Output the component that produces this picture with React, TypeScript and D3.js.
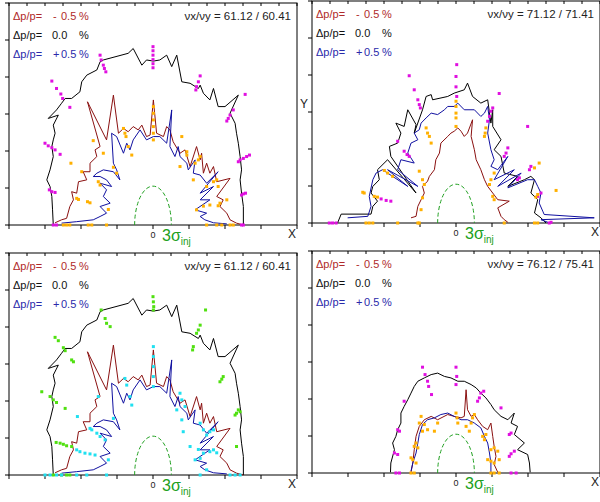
import * as d3 from 'd3'

type Pt = [number, number]

// axis ticks (x in tick units of 10, y likewise)
const X_TICKS = [-40, -30, -20, -10, 0, 10, 20, 30, 40]
const X_MINOR = [-35, -25, -15, -5, 5, 15, 25, 35]
const Y_TICKS = [0, 10, 20, 30, 40, 50, 60]
const TUNES = ['61.12 / 60.41', '71.12 / 71.41', '61.12 / 60.41', '76.12 / 75.41']
const DP_SIGNS = ['-', '', '+']
const DP_VALUES = ['0.5', '0.0', '0.5']
const INJ_HALF = [5.1, 10.5]

// ---- tune 61.12 / 60.41 (panels 1 and 3)
const P1_BLACK: Pt[] = [
  [-27.7, 0], [-27.9, 4.1], [-28.1, 7.7], [-28.6, 10.4], [-29.5, 12.2], [-28.6, 14.9], [-27.7, 18.5],
  [-28.1, 21.2], [-27.7, 23.0], [-27.2, 24.8], [-27.7, 27.0], [-26.3, 29.7], [-29.1, 28.8], [-26.8, 31.1],
  [-25.4, 32.9], [-24.4, 34.2], [-22.6, 34.2], [-20.3, 36.0], [-19.8, 38.7], [-18.4, 40.5], [-15.6, 41.9],
  [-14.7, 44.1], [-13.8, 44.6], [-6.9, 46.4], [-5.5, 47.7], [-3.1, 43.2], [-1.8, 44.6], [0.1, 44.3],
  [1.9, 44.6], [3.8, 45.9], [5.2, 42.8], [6.6, 45.9], [8.0, 38.7], [10.3, 38.3], [12.6, 36.9], [13.1, 37.8],
  [14.0, 35.6], [15.8, 33.8], [16.8, 36.9], [18.1, 32.0], [20.0, 32.0], [23.7, 35.1], [21.4, 30.2],
  [22.8, 27.5], [23.2, 24.8], [23.7, 22.1], [24.2, 18.5], [24.6, 14.9], [24.2, 12.2], [24.6, 8.6],
  [25.1, 5.0], [25.1, 0],
]
const P1_RED: Pt[] = [
  [-27.2, 0.6], [-25.4, 1.4], [-24.0, 1.8], [-23.1, 5.0], [-22.1, 6.8], [-22.6, 9.0], [-21.2, 8.6],
  [-20.7, 11.7], [-18.4, 12.2], [-19.4, 14.4], [-17.5, 14.4], [-17.5, 16.7], [-15.6, 18.5], [-16.1, 20.3],
  [-14.7, 21.2], [-18.2, 33.3], [-12.9, 23.0], [-11.0, 35.1], [-9.6, 24.8], [-8.2, 26.1], [-6.9, 25.2],
  [-5.5, 26.6], [-4.1, 25.7], [-3.1, 27.0], [-1.8, 23.9], [-0.8, 24.3], [0.1, 33.8], [1.0, 24.8],
  [2.9, 23.9], [3.8, 26.6], [4.7, 25.7], [5.6, 22.5], [7.5, 19.4], [8.9, 20.3], [10.3, 15.8], [12.1, 21.2],
  [13.1, 17.6], [13.5, 19.4], [14.0, 14.0], [14.9, 16.7], [15.8, 14.0], [16.8, 15.8], [17.7, 11.7],
  [21.4, 12.6], [17.7, 7.7], [19.5, 6.8], [18.6, 5.0], [20.5, 3.2], [21.4, 1.4], [23.2, 0.5], [25.1, 0],
]
const P1_BLUE: Pt[] = [
  [-25.4, 0.5], [-21.2, 0.9], [-16.6, 1.4], [-14.7, 2.3], [-12.9, 3.2], [-14.7, 5.0], [-11.9, 5.9],
  [-13.8, 7.7], [-12.9, 9.5], [-14.7, 11.3], [-11.5, 10.4], [-12.9, 12.2], [-14.7, 13.1], [-16.6, 13.1],
  [-15.6, 14.0], [-13.8, 14.9], [-11.0, 14.4], [-9.2, 12.2], [-10.1, 14.9], [-11.0, 16.7], [-11.5, 24.8],
  [-10.1, 23.9], [-8.2, 19.4], [-7.3, 22.1], [-6.4, 20.3], [-5.5, 23.0], [-3.6, 25.7], [-1.8, 23.0],
  [0.1, 23.9], [1.9, 23.9], [3.8, 22.1], [5.2, 31.1], [4.7, 21.2], [6.1, 18.5], [7.0, 21.2], [7.5, 18.5],
  [9.4, 16.7], [9.8, 14.9], [11.7, 17.6], [11.2, 14.0], [13.1, 13.5], [14.9, 11.3], [18.1, 14.4],
  [13.1, 8.6], [16.8, 10.4], [13.1, 6.8], [15.8, 6.8], [11.7, 4.1], [14.9, 3.2], [13.1, 2.3], [14.4, 1.4],
  [16.8, 0.6], [20.5, 0.3],
]
const P1_MAGENTA: Pt[] = [
  [0, 48.2], [0, 47.1], [0, 45.9], [0, 44.7], [0, 43.6], [0, 42.5],
  [-14.7, 45.9], [-14.4, 44.6], [-13.8, 43.2], [-13.5, 42.3], [-13.1, 41.4],
  [-28.1, 38.9], [-26.8, 36.9], [-25.6, 35.4], [-25.1, 34.2], [-23.1, 31.8],
  [13.1, 40.3], [12.6, 38.7], [12.1, 37.4], [11.9, 36.5], [25.6, 35.3],
  [22.3, 31.1], [21.4, 29.7], [20.9, 28.8], [20.5, 28.1],
  [23.7, 17.1], [24.2, 17.6], [25.1, 18.0], [26.0, 18.5], [26.8, 18.9],
  [-30.0, 22.1], [-29.1, 21.4], [-28.1, 20.9], [-27.2, 20.3], [-25.8, 19.1],
  [-28.8, 9.5], [-28.1, 9.0], [-27.2, 8.8], [24.6, 8.1], [25.1, 8.4], [25.7, 8.6],
  [-27.7, 0], [-26.8, 0], [24.6, 0], [25.1, 0],
]
const P1_ORANGE: Pt[] = [
  [0.1, 32.0], [0.1, 30.2], [0.1, 28.4], [0.1, 26.6], [0.1, 24.8], [0.1, 23.0],
  [-8.2, 26.1], [-7.8, 24.8], [-7.5, 23.9], [-6.9, 21.2], [-5.9, 18.9],
  [-16.6, 22.8], [-13.8, 19.4], [-11.0, 15.6], [-10.1, 14.0], [-15.2, 11.7], [-14.7, 10.8],
  [-19.8, 14.4], [-22.8, 16.7], [-21.2, 7.2], [-20.7, 6.9], [-18.2, 6.3], [-17.5, 6.0], [-12.4, 4.2],
  [8.0, 23.9], [9.4, 19.8], [11.7, 16.7], [12.6, 17.6], [7.5, 15.8], [11.2, 12.2], [14.9, 10.4],
  [16.8, 11.7], [17.7, 12.2], [18.1, 10.4], [20.5, 6.8], [18.6, 5.9], [18.1, 5.2], [15.8, 5.4],
  [12.1, 4.1], [14.0, 5.1], [9.4, 18.9], [13.1, 18.5],
  [-24.9, 0], [-24.0, 0], [-23.1, 0], [-18.0, 0], [-17.0, 0], [-12.9, 0],
  [14.9, 0], [17.7, 0], [19.1, 0], [21.4, 0], [22.3, 0],
]
const P3_GREEN: Pt[] = [
  [0, 48.2], [0.1, 46.8], [0.2, 45.5], [0.1, 44.6], [-14.4, 44.6], [-13.3, 42.3], [-12.9, 41.0],
  [-11.9, 40.1], [-27.2, 37.2], [-26.3, 36.3], [-24.9, 34.4], [-24.4, 33.6], [-22.6, 31.1], [-22.1, 30.6],
  [13.1, 40.5], [12.6, 39.2], [12.1, 38.3], [14.6, 44.6], [11.2, 34.7], [11.0, 33.8],
  [19.5, 26.6], [19.1, 25.9], [18.6, 25.2], [-30.9, 22.5], [-28.6, 21.2], [-27.7, 20.3], [-26.8, 19.6],
  [-24.4, 18.0], [23.7, 17.6], [24.2, 17.1], [23.2, 16.7], [22.8, 16.2],
  [-26.9, 8.8], [-25.8, 8.6], [-24.9, 8.3], [-24.0, 7.9], [-22.6, 7.7], [23.2, 7.7],
  [-27.7, 0], [-25.4, 0], [-24.0, 0], [-23.1, 0],
]
const P3_CYAN: Pt[] = [
  [0.1, 34.7], [0.1, 32.0], [0.1, 29.3], [0.1, 26.6], [0.1, 23.9],
  [-7.8, 26.1], [-7.3, 24.3], [-6.4, 21.2], [-5.9, 18.9], [-15.2, 21.2], [-11.0, 15.3], [-21.0, 15.8],
  [-17.5, 12.6], [-17.0, 12.2], [-15.6, 11.3], [-14.7, 10.4], [-13.3, 9.5],
  [-21.2, 6.8], [-20.3, 6.3], [-18.9, 5.9], [-17.5, 5.7], [-16.1, 5.4], [-12.4, 4.1],
  [7.5, 22.1], [8.0, 20.3], [8.9, 18.5], [6.6, 17.6], [8.0, 14.9], [8.4, 11.7],
  [13.1, 14.0], [14.0, 12.2], [14.9, 10.8], [15.8, 11.7], [16.8, 12.2],
  [12.6, 6.9], [14.0, 5.9], [15.8, 6.3], [16.8, 6.8], [17.7, 6.0], [11.7, 4.1], [13.1, 4.5],
  [14.9, 1.4], [10.3, 7.7],
  [-30.0, 0], [-28.6, 0], [-26.8, 0], [-25.4, 0], [-21.2, 0], [-18.4, 0], [-12.9, 0],
  [13.1, 0], [21.4, 0], [22.8, 0], [24.2, 0],
]

// ---- tune 71.12 / 71.41 (panel 2)
const P2_BLACK: Pt[] = [
  [-32.9, 0], [-31.9, 2.4], [-23.6, 2.4], [-23.1, 4.5], [-21.8, 5.9], [-23.6, 8.1], [-23.1, 9.9],
  [-21.3, 11.7], [-21.8, 14.4], [-19.0, 17.1], [-11.1, 8.1], [-18.1, 18.0], [-18.5, 20.7], [-16.2, 21.6],
  [-15.3, 24.3], [-16.7, 27.0], [-14.4, 26.1], [-13.4, 30.6], [-11.1, 26.6], [-11.6, 24.3], [-9.3, 30.6],
  [-8.3, 34.2], [-6.9, 34.7], [-6.5, 33.3], [-2.3, 34.2], [-0.5, 35.1], [2.3, 36.0], [3.2, 37.8],
  [4.6, 34.2], [6.9, 32.4], [8.8, 33.3], [9.7, 27.0], [10.2, 30.6], [10.2, 26.1], [12.5, 22.5],
  [10.6, 19.8], [12.5, 18.0], [13.4, 13.5], [17.1, 12.6], [14.4, 9.9], [19.0, 11.7], [20.8, 12.6],
  [21.8, 11.7], [20.8, 8.1], [22.7, 6.3], [21.8, 2.7], [23.6, 1.4], [25.0, 0],
]
const P2_RED: Pt[] = [
  [-12.5, 1.4], [-11.1, 1.8], [-10.6, 4.5], [-9.7, 6.3], [-8.8, 8.1], [-9.3, 9.9], [-7.9, 11.3],
  [-7.4, 12.6], [-6.0, 14.4], [-5.6, 17.1], [-4.6, 18.9], [-4.2, 21.6], [-2.3, 23.4], [-1.4, 24.3],
  [-0.5, 24.8], [0.5, 25.7], [1.4, 24.8], [2.3, 23.4], [3.2, 24.3], [4.6, 27.9], [4.2, 23.4],
  [5.1, 19.8], [5.6, 17.1], [6.9, 14.4], [7.9, 11.7], [8.8, 9.9], [10.2, 8.1], [11.6, 6.3], [14.8, 5.9],
  [11.6, 4.1], [12.5, 1.8], [13.4, 0.9], [14.4, 0.2],
]
const P2_BLUE: Pt[] = [
  [-30.1, 1.4], [-24.5, 1.8], [-23.6, 4.5], [-24.1, 7.2], [-23.1, 11.7], [-22.2, 13.5], [-20.4, 14.4],
  [-13.4, 9.9], [-19.0, 14.4], [-10.6, 9.9], [-16.2, 14.4], [-15.3, 17.1], [-11.6, 16.2], [-13.4, 18.9],
  [-12.5, 21.6], [-10.6, 22.5], [-11.6, 24.3], [-10.2, 25.2], [-9.7, 27.0], [-8.3, 28.4], [-6.9, 29.7],
  [-5.1, 29.3], [-3.2, 30.6], [-2.3, 31.5], [-0.5, 31.5], [0.5, 32.4], [2.3, 30.6], [5.1, 30.6],
  [6.9, 28.8], [7.9, 29.7], [8.8, 31.5], [9.3, 27.9], [8.8, 24.3], [9.7, 19.8], [10.6, 17.1], [9.7, 15.3],
  [11.6, 14.4], [14.4, 18.0], [10.6, 11.7], [16.2, 14.4], [11.6, 9.9], [18.1, 13.5], [14.4, 9.5],
  [19.9, 11.7], [21.8, 11.7], [22.7, 9.9], [23.6, 8.1], [23.1, 5.4], [24.1, 3.2], [24.5, 2.3],
  [38.4, 1.4], [23.6, 0.9], [25.5, 0.2],
]
const P2_MAGENTA: Pt[] = [
  [0.2, 42.8], [0, 39.6], [0, 36.8], [0.2, 34.2], [-13.0, 39.8], [-11.6, 36.0], [-10.6, 33.3],
  [-10.2, 32.0], [-9.9, 31.1], [12.0, 35.0], [10.2, 31.1], [9.7, 30.2], [9.3, 28.8], [8.8, 27.5],
  [19.9, 26.1], [-16.2, 22.1], [-14.4, 19.4], [-13.6, 18.5], [-13.0, 18.0], [14.4, 20.3], [13.9, 18.9],
  [13.4, 18.0], [20.8, 15.3], [20.4, 14.4], [17.6, 12.2], [17.1, 11.7], [23.6, 8.1], [22.7, 7.2],
  [-20.8, 6.5], [-19.4, 6.1], [-18.1, 5.9],
  [-35.2, 0], [-34.3, 0], [-33.3, 0], [25.9, 0], [26.4, 0.2],
]
const P2_ORANGE: Pt[] = [
  [0, 32.9], [0, 31.5], [0, 29.7], [0, 28.4], [0, 26.1], [-8.3, 25.7], [-7.9, 24.3], [-7.4, 23.4],
  [-6.9, 21.6], [8.3, 25.7], [8.1, 24.3], [7.9, 23.4], [-19.9, 14.2], [-19.0, 13.5], [-17.6, 12.6],
  [-10.2, 14.0], [-9.3, 11.7], [-8.8, 10.4], [10.6, 13.5], [9.7, 11.7], [9.3, 10.4],
  [-25.9, 8.3], [-25.5, 8.1], [-22.7, 7.2], [-21.8, 7.0], [-9.3, 6.8], [-9.7, 3.6], [10.2, 7.2],
  [10.6, 6.3], [21.8, 14.9], [23.1, 16.2], [27.8, 8.8], [22.2, 7.0], [22.7, 7.7],
  [-25.0, 0], [-24.1, 0], [-23.1, 0], [-16.2, 0], [-10.6, 0], [-10.2, 0], [13.4, 0], [21.8, 0], [22.7, 0],
]

// ---- tune 76.12 / 75.41 (panel 4)
const P4_BLACK: Pt[] = [
  [-18.2, 0.2], [-18.1, 2.7], [-17.1, 6.3], [-17.6, 8.1], [-16.7, 9.9], [-16.2, 11.7], [-15.3, 13.5],
  [-15.3, 16.2], [-14.4, 18.0], [-13.4, 19.8], [-12.5, 21.6], [-11.6, 23.4], [-10.6, 24.8], [-8.8, 25.7],
  [-6.9, 26.6], [-5.1, 27.0], [-3.2, 26.1], [-1.4, 25.7], [0.5, 24.8], [2.3, 24.8], [4.2, 23.9],
  [5.6, 23.0], [6.9, 21.6], [8.3, 20.3], [9.7, 18.5], [10.6, 17.1], [12.5, 15.3], [14.4, 14.4],
  [16.2, 16.2], [15.3, 13.5], [17.1, 12.6], [16.2, 10.4], [19.0, 8.1], [17.1, 6.3], [19.9, 5.0],
  [20.4, 2.7], [20.6, 0.2],
]
const P4_RED: Pt[] = [
  [-12.5, 0.2], [-12.0, 2.7], [-11.6, 6.3], [-11.1, 9.9], [-10.2, 12.6], [-8.8, 14.4], [-6.9, 15.3],
  [-5.1, 14.4], [-2.3, 15.8], [-0.5, 15.3], [1.4, 14.9], [2.3, 15.3], [2.8, 22.5], [3.2, 17.1],
  [4.2, 15.3], [5.1, 15.8], [6.0, 14.4], [7.4, 12.6], [8.8, 11.7], [9.7, 13.5], [10.2, 9.9], [10.6, 7.2],
  [11.1, 4.5], [10.6, 2.3], [11.6, 0.2],
]
const P4_BLUE: Pt[] = [
  [-12.5, 0.5], [-12.0, 2.7], [-11.1, 5.4], [-10.6, 8.1], [-10.2, 10.4], [-9.3, 13.1], [-7.9, 14.4],
  [-6.0, 14.9], [-4.2, 15.8], [-2.3, 16.2], [-0.5, 15.3], [1.4, 14.4], [3.2, 14.4], [5.1, 13.5],
  [6.9, 12.2], [7.9, 9.9], [8.8, 8.1], [9.3, 5.4], [9.7, 2.7], [9.7, 0.2],
]
const P4_MAGENTA: Pt[] = [
  [0, 28.6], [0.2, 26.1], [0, 23.9], [-9.3, 28.6], [-8.6, 26.6], [-7.9, 24.8], [-7.6, 23.4], [-6.8, 21.2],
  [6.9, 21.6], [6.5, 20.3], [6.0, 19.4], [7.7, 22.1], [12.5, 17.6], [-14.4, 19.4], [-16.2, 11.7],
  [-15.7, 11.3], [15.3, 10.8], [14.8, 10.4], [-17.1, 5.4], [-16.2, 5.0], [16.2, 5.9], [15.3, 5.2],
  [14.8, 4.5], [-16.7, 0], [-15.7, 0], [15.3, 0], [16.7, 0],
]
const P4_ORANGE: Pt[] = [
  [0, 16.2], [0.3, 14.9], [0.5, 13.5], [-9.7, 15.3], [-10.2, 13.5], [-8.8, 13.1], [-7.9, 11.7],
  [-9.3, 11.3], [-11.1, 8.1], [-11.6, 7.2], [-10.6, 6.8], [-12.5, 4.1], [-12.0, 3.6], [-11.1, 2.7],
  [5.1, 15.8], [4.6, 14.9], [4.2, 13.5], [8.3, 10.4], [7.4, 9.9], [7.9, 9.0], [9.7, 6.3], [10.6, 6.8],
  [11.6, 5.9], [8.8, 3.6], [9.7, 3.2], [10.6, 2.7], [12.0, 3.6], [-6.0, 11.3], [-5.1, 13.5],
  [3.7, 11.3], [2.8, 12.6], [-12.5, 0], [-11.6, 0], [9.7, 0], [10.6, 0], [12.0, 0],
]

const C_BLACK = '#000000'
const C_RED = '#8a1010'
const C_BLUE = '#1010a0'
const C_MAGENTA = '#e010e0'
const C_ORANGE = '#ffb000'
const C_GREEN = '#50e010'
const C_CYAN = '#20e0f0'
const FONT = '"Liberation Sans", Arial, sans-serif'

const W = 288
const H = 222

type PanelProps = {
  left: number
  bottom: number
  tune: string
  black: Pt[]
  red: Pt[]
  blue: Pt[]
  dots: { pts: Pt[]; color: string }[]
  showY?: boolean
}

function Panel({ left, bottom, tune, black, red, blue, dots, showY }: PanelProps) {
  const x = d3.scaleLinear().domain([-40, 40]).range([left, left + W])
  const y = d3.scaleLinear().domain([0, 60]).range([bottom, bottom - H])
  const line = d3.line<Pt>().x((d) => x(d[0])).y((d) => y(d[1]))
  const top = y(60)
  const rx = x(INJ_HALF[0]) - x(0)
  const ry = y(0) - y(INJ_HALF[1])
  const legendColors = ['#b02a2a', '#111', '#2a2aaa']

  return (
    <g>
      <rect x={x(-40)} y={top} width={W} height={H} fill="none" stroke="#000" strokeWidth={1} />
      {X_TICKS.map((t) => (
        <line key={'xb' + t} x1={x(t)} x2={x(t)} y1={bottom} y2={bottom + 4} stroke="#000" />
      ))}
      {X_TICKS.concat(X_MINOR).map((t) => (
        <line key={'xt' + t} x1={x(t)} x2={x(t)} y1={top} y2={top + 3} stroke="#000" />
      ))}
      {Y_TICKS.map((t) => (
        <line key={'y' + t} x1={left - 4} x2={left} y1={y(t)} y2={y(t)} stroke="#000" />
      ))}

      <path d={line(black) || ''} fill="none" stroke={C_BLACK} strokeWidth={1} />
      <path d={line(red) || ''} fill="none" stroke={C_RED} strokeWidth={1} />
      <path d={line(blue) || ''} fill="none" stroke={C_BLUE} strokeWidth={1} />

      {dots.map((s, si) =>
        s.pts.map((d, i) => (
          <rect key={si + '-' + i} x={x(d[0]) - 1.5} y={y(d[1]) - 1.5} width={3} height={3} fill={s.color} />
        ))
      )}

      <path
        d={`M${x(-INJ_HALF[0])},${y(0)} A${rx},${ry} 0 0 1 ${x(INJ_HALF[0])},${y(0)}`}
        fill="none"
        stroke="#20a020"
        strokeWidth={1}
        strokeDasharray="4,2.5"
      />

      {DP_VALUES.map((v, i) => (
        <g key={'lg' + i} fontFamily={FONT} fontSize={11} fill={legendColors[i]}>
          <text x={left + 4} y={top + 17 + i * 19}>Δp/p=</text>
          {DP_SIGNS[i] && (
            <text x={left + 44} y={top + 17 + i * 19}>{DP_SIGNS[i]}</text>
          )}
          <text x={i === 1 ? left + 43 : left + 52} y={top + 17 + i * 19}>{v}</text>
          <text x={left + 70} y={top + 17 + i * 19}>%</text>
        </g>
      ))}
      <text x={x(40) - 6} y={top + 17} textAnchor="end" fontFamily={FONT} fontSize={11.5} fill="#222">
        νx/νy = {tune}
      </text>

      <text x={x(0)} y={bottom + 13} textAnchor="middle" fontFamily={FONT} fontSize={9} fill="#222">
        0
      </text>
      <text x={x(0) + 9} y={bottom + 16} fontFamily={FONT} fontSize={16} fill="#20a020">
        3σ<tspan fontSize={10} dy={4}>inj</tspan>
      </text>
      <text x={x(40) - 5} y={bottom + 13} textAnchor="middle" fontFamily={FONT} fontSize={12} fill="#222">
        X
      </text>
      {showY && (
        <text x={left - 8} y={bottom - 115} textAnchor="middle" fontFamily={FONT} fontSize={12} fill="#222">
          Y
        </text>
      )}
    </g>
  )
}

export default function App() {
  return (
    <svg width={600} height={502} style={{ position: 'absolute', left: 0, top: 0, background: '#fff' }}>
      <Panel
        left={9}
        bottom={225}
        tune={TUNES[0]}
        black={P1_BLACK}
        red={P1_RED}
        blue={P1_BLUE}
        dots={[
          { pts: P1_MAGENTA, color: C_MAGENTA },
          { pts: P1_ORANGE, color: C_ORANGE },
        ]}
      />
      <Panel
        left={312}
        bottom={223}
        tune={TUNES[1]}
        black={P2_BLACK}
        red={P2_RED}
        blue={P2_BLUE}
        dots={[
          { pts: P2_MAGENTA, color: C_MAGENTA },
          { pts: P2_ORANGE, color: C_ORANGE },
        ]}
        showY
      />
      <Panel
        left={9}
        bottom={475}
        tune={TUNES[2]}
        black={P1_BLACK}
        red={P1_RED}
        blue={P1_BLUE}
        dots={[
          { pts: P3_GREEN, color: C_GREEN },
          { pts: P3_CYAN, color: C_CYAN },
        ]}
      />
      <Panel
        left={312}
        bottom={473}
        tune={TUNES[3]}
        black={P4_BLACK}
        red={P4_RED}
        blue={P4_BLUE}
        dots={[
          { pts: P4_MAGENTA, color: C_MAGENTA },
          { pts: P4_ORANGE, color: C_ORANGE },
        ]}
      />
    </svg>
  )
}
